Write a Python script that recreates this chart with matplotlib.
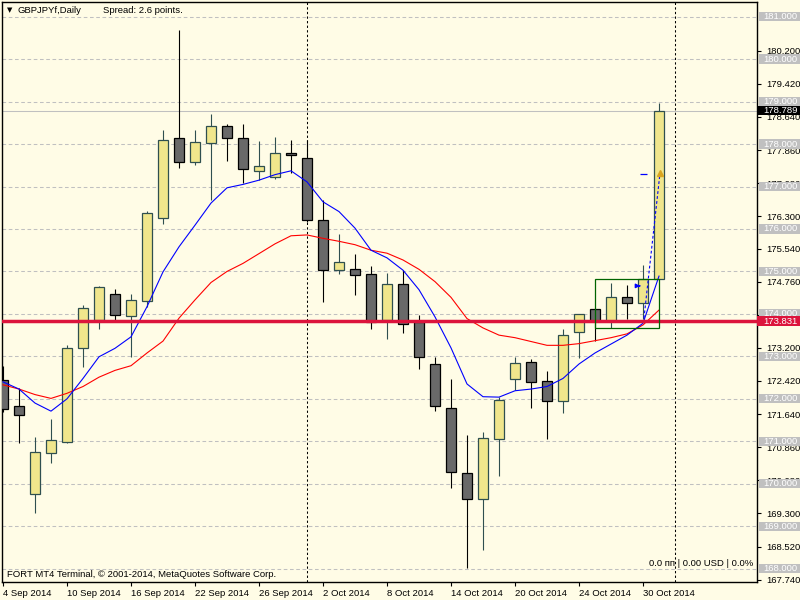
import matplotlib
matplotlib.use('Agg')
import matplotlib.pyplot as plt
import matplotlib.transforms as mtransforms
from matplotlib.patches import Rectangle

plt.rcParams['font.family'] = ['Liberation Sans', 'DejaVu Sans']

# GBPJPYf daily bars, 4 Sep 2014 .. 31 Oct 2014
opens = [172.44, 171.82, 169.75, 170.72, 170.99, 173.19, 173.86, 174.46, 173.94, 174.30,
         176.25, 178.14, 177.57, 178.02, 178.42, 178.14, 177.36, 177.22, 177.78, 177.67,
         176.20, 175.03, 175.05, 174.93, 173.86, 174.70, 173.81, 172.81, 171.78, 170.25,
         169.63, 171.05, 172.46, 172.86, 172.41, 171.95, 173.57, 174.11, 173.83, 174.41,
         174.25, 174.82]
highs = [172.77, 172.26, 171.10, 171.53, 173.27, 174.20, 174.65, 174.59, 174.46, 176.42,
         178.33, 180.69, 178.33, 178.70, 178.47, 178.47, 178.07, 178.17, 178.10, 178.10,
         176.68, 175.88, 175.41, 175.12, 174.97, 175.03, 173.97, 172.99, 172.47, 171.15,
         171.21, 172.04, 172.99, 172.93, 172.66, 173.64, 173.99, 174.11, 174.72, 174.67,
         175.15, 178.96]
lows = [171.69, 170.95, 169.32, 170.50, 170.97, 172.76, 173.64, 173.86, 172.98, 174.17,
        176.11, 177.43, 177.50, 176.68, 177.61, 177.08, 177.15, 177.18, 177.33, 176.16,
        174.29, 174.93, 174.45, 173.65, 173.42, 173.56, 172.71, 171.72, 169.91, 168.02,
        168.45, 170.18, 172.21, 171.78, 171.05, 171.67, 172.97, 173.36, 173.66, 173.88,
        173.88, 174.82]
closes = [171.76, 171.62, 170.74, 171.02, 173.19, 174.13, 174.63, 173.97, 174.32, 176.37,
          178.09, 177.57, 178.04, 178.42, 178.14, 177.41, 177.48, 177.78, 177.74, 176.20,
          175.03, 175.22, 174.91, 173.82, 174.70, 173.76, 172.99, 171.83, 170.27, 169.65,
          171.07, 171.97, 172.84, 172.39, 171.95, 173.50, 173.99, 173.83, 174.41, 174.25,
          174.82, 178.789]

# moving averages as drawn (blue = fast, red = slow)
ma_fast = [172.40, 172.23, 171.90, 171.71, 172.00, 172.48, 172.99, 173.19, 173.46, 174.17,
           174.99, 175.58, 176.09, 176.61, 176.97, 177.05, 177.15, 177.28, 177.37, 177.11,
           176.64, 176.41, 176.02, 175.50, 175.32, 175.03, 174.57, 173.93, 173.20, 172.35,
           172.05, 172.04, 172.19, 172.23, 172.29, 172.48, 172.82, 173.08, 173.29, 173.50,
           173.78, 174.89]
ma_slow = [172.33, 172.23, 172.10, 172.01, 172.13, 172.29, 172.51, 172.67, 172.78, 173.08,
           173.36, 173.90, 174.33, 174.74, 175.00, 175.19, 175.42, 175.65, 175.84, 175.86,
           175.78, 175.71, 175.63, 175.50, 175.43, 175.27, 175.05, 174.76, 174.39, 173.89,
           173.67, 173.50, 173.44, 173.35, 173.26, 173.26, 173.30, 173.37, 173.44, 173.53,
           173.74, 174.09]

date_labels = ['4 Sep 2014', '10 Sep 2014', '16 Sep 2014', '22 Sep 2014', '26 Sep 2014',
               '2 Oct 2014', '8 Oct 2014', '14 Oct 2014', '20 Oct 2014', '24 Oct 2014',
               '30 Oct 2014']
price_ticks = [180.200, 179.420, 178.640, 177.860, 177.080, 176.300, 175.540, 174.760,
               173.980, 173.200, 172.420, 171.640, 170.860, 170.080, 169.300, 168.520, 167.740]
round_levels = [168, 169, 170, 171, 172, 173, 174, 175, 176, 177, 178, 179, 180, 181]
month_starts = [19, 42]
bid = 178.789
red_level = 173.831
box_bars = (37, 41)
box_prices = (173.67, 174.82)

bg = '#FFFCE6'
bull_fill, bull_edge = '#F0E68C', '#2F4F4F'
bear_fill, bear_edge = '#696969', '#000000'
fs = 6.8

fig = plt.figure(figsize=(8, 6), dpi=100, facecolor=bg)
ax = fig.add_axes([2 / 800, 18 / 600, 755 / 800, 580 / 600], facecolor=bg)

# round-number levels and month separators
for lv in round_levels:
    ax.axhline(lv, color='#C0C0C0', lw=0.75, ls=(0, (3.5, 2.5)), zorder=1)
for m in month_starts:
    ax.axvline(m, color='black', lw=0.75, ls=(0, (2.2, 2.2)), zorder=1)
ax.axhline(bid, color='#C0C0C0', lw=0.75, zorder=1)

# candles
for i in range(len(opens)):
    o, h, l, c = opens[i], highs[i], lows[i], closes[i]
    up = c >= o
    ax.vlines(i, l, h, color=bull_edge if up else bear_edge, lw=0.8, zorder=2)
    body = max(abs(c - o), 0.04)
    ax.bar(i, body, bottom=min(o, c), width=0.625,
           color=bull_fill if up else bear_fill,
           edgecolor=bull_edge if up else bear_edge, linewidth=0.9, zorder=3)

x = list(range(len(closes)))
ax.plot(x, ma_slow, color='#FF0000', lw=0.8, zorder=4)
ax.plot(x, ma_fast, color='#0000FF', lw=0.8, zorder=4)

ax.axhline(red_level, color='#DC143C', lw=2.5, zorder=5)
ax.add_patch(Rectangle((box_bars[0], box_prices[0]), box_bars[1] - box_bars[0],
                       box_prices[1] - box_prices[0], fill=False,
                       edgecolor='#006400', lw=0.9, zorder=5))

# trade marks
ax.plot([40.06, 41.06], [173.90, 177.31], color='#0000FF', lw=0.8, ls=(0, (2.5, 2)), zorder=6)
ax.plot([41.06], [177.31], marker='^', color='#DAA520', ms=4, zorder=6)
ax.hlines(177.30, 39.8, 40.25, color='#0000FF', lw=0.9, zorder=6)
ax.annotate('', xy=(40.0, 174.66), xytext=(39.6, 174.66),
            arrowprops=dict(arrowstyle='-|>', color='#0000FF', lw=1, mutation_scale=6), zorder=6)

ax.set_xlim(-0.0625, 47.125)
ax.set_ylim(167.686, 181.346)

ax.yaxis.tick_right()
ax.set_yticks(price_ticks)
ax.set_yticklabels([f'{t:.3f}' for t in price_ticks])
ax.set_xticks(range(0, 44, 4))
ax.set_xticklabels(date_labels)
for lab in ax.get_xticklabels():
    lab.set_horizontalalignment('left')
ax.tick_params(axis='both', labelsize=fs, length=3, width=0.8, color='black', direction='out')
ax.tick_params(axis='x', pad=2)
ax.tick_params(axis='y', pad=4)
for s in ax.spines.values():
    s.set_color('black')
    s.set_linewidth(1)

# price labels on the right scale
tr = mtransforms.blended_transform_factory(ax.transAxes, ax.transData)
x0 = 1.0026
for lv in round_levels:
    ax.add_patch(Rectangle((x0, lv - 0.11), 0.06, 0.22, transform=tr, clip_on=False,
                           facecolor='#C0C0C0', edgecolor='none', zorder=7))
    ax.text(1.008, lv, f'{lv:.3f}', transform=tr, color='white', fontsize=fs,
            va='center', ha='left', clip_on=False, zorder=8)
for lv, col in [(bid, 'black'), (red_level, '#DC143C')]:
    ax.add_patch(Rectangle((1.0, lv - 0.11), 0.06, 0.22, transform=tr, clip_on=False,
                           facecolor=col, edgecolor='none', zorder=9))
    ax.text(1.008, lv, f'{lv:.3f}', transform=tr, color='white', fontsize=fs,
            va='center', ha='left', clip_on=False, zorder=10)

# header and footer texts
fig.text(7 / 800, 1 - 10.5 / 600, '\u25bc', fontsize=5, va='center', ha='left',
         family=['DejaVu Sans'])
fig.text(17.5 / 800, 1 - 10.5 / 600, 'GBPJPYf,Daily', fontsize=fs, va='center', ha='left')
fig.text(103 / 800, 1 - 10.5 / 600, 'Spread: 2.6 points.', fontsize=fs, va='center', ha='left')
fig.text(7 / 800, 1 - 574.7 / 600, 'FORT MT4 Terminal, \u00a9 2001-2014, MetaQuotes Software Corp.',
         fontsize=fs, va='center', ha='left')
fig.text(753 / 800, 1 - 563 / 600, '0.0 \u043f\u043f | 0.00 USD | 0.0%', fontsize=fs,
         va='center', ha='right')

fig.savefig('out.png', dpi=100, facecolor=bg)
